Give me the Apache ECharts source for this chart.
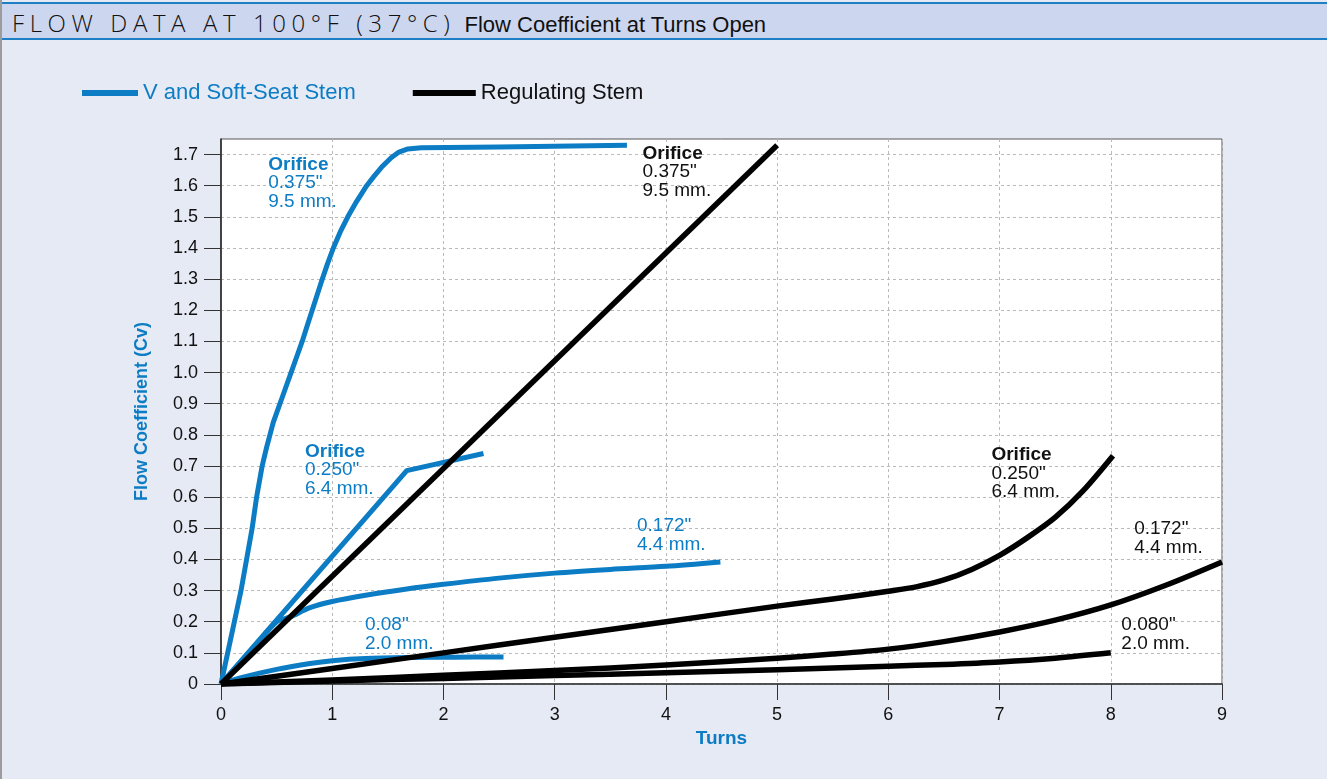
<!DOCTYPE html>
<html>
<head>
<meta charset="utf-8">
<script src="https://cdn.jsdelivr.net/npm/echarts@6/dist/echarts.min.js"></script>
<style>
html,body{margin:0;padding:0;width:1327px;height:779px;overflow:hidden;background:#e6eaf5;font-family:'Liberation Sans',Arial,sans-serif;}
#frame{position:absolute;left:0;top:0;width:1327px;height:779px;border-left:2px solid #9c9c9c;box-sizing:border-box;}
#hdr{position:absolute;left:2px;top:2px;width:1325px;height:34px;background:#cdd6ef;border-top:2px solid #1e7fc4;border-bottom:2px solid #1e7fc4;}
#title{position:absolute;left:10px;top:2px;display:flex;align-items:baseline;white-space:nowrap;}
#t1{font-family:'Open Sans',sans-serif;font-weight:300;font-size:24px;letter-spacing:5.6px;color:#111;}
#t2{font-family:'Liberation Sans',Arial,sans-serif;font-size:22px;color:#111;margin-left:9px;}
#chart{position:absolute;left:0;top:0;width:1327px;height:779px;}
</style>
</head>
<body>
<div id="frame"></div>
<div id="hdr"><div id="title"><span id="t1">FLOW DATA AT 100°F (37°C)</span><span id="t2">Flow Coefficient at Turns Open</span></div></div>
<div id="chart"></div>
<script>
// ---- data (turns, Cv) ----
const seriesNames = ['V and Soft-Seat Stem', 'Regulating Stem'];
const xTickValues = [0, 1, 2, 3, 4, 5, 6, 7, 8, 9];
const yTickValues = [0, 0.1, 0.2, 0.3, 0.4, 0.5, 0.6, 0.7, 0.8, 0.9, 1.0, 1.1, 1.2, 1.3, 1.4, 1.5, 1.6, 1.7];
const yTickLabels = ['0', '0.1', '0.2', '0.3', '0.4', '0.5', '0.6', '0.7', '0.8', '0.9', '1.0', '1.1', '1.2', '1.3', '1.4', '1.5', '1.6', '1.7'];

// V and Soft-Seat Stem
const blue375 = [[0,0],[0.06,0.1],[0.12,0.2],[0.18,0.3],[0.23,0.4],[0.28,0.5],[0.32,0.6],[0.37,0.7],[0.41,0.76],[0.44,0.8],[0.47,0.84],[0.51,0.88],[0.55,0.92],[0.59,0.96],[0.63,1.0],[0.68,1.05],[0.73,1.1],[0.775,1.15],[0.82,1.2],[0.865,1.25],[0.91,1.3],[0.958,1.35],[1.01,1.4],[1.07,1.45],[1.14,1.5],[1.22,1.55],[1.31,1.6],[1.375,1.63],[1.445,1.66],[1.53,1.69],[1.6,1.708],[1.68,1.718],[1.8,1.722],[2.5,1.724],[3.65,1.73]];
const blue250 = [[0,0],[1.67,0.685],[2.36,0.74]];
const blue172 = [[0,0],[0.3,0.12],[0.5,0.2],[0.62,0.215],[0.8,0.245],[1.0,0.265],[1.3,0.285],[1.67,0.305],[2.0,0.32],[2.5,0.34],[3.0,0.356],[3.5,0.368],[4.0,0.378],[4.49,0.392]];
const blue080 = [[0,0],[0.2,0.022],[0.5,0.047],[0.8,0.066],[1.0,0.075],[1.3,0.082],[1.7,0.085],[2.1,0.086],[2.54,0.087]];

// Regulating Stem
const black375 = [[0,0],[5,1.73]];
const black250 = [[0,0],[1,0.05],[2,0.1],[3,0.15],[4,0.2],[5,0.25],[5.5,0.273],[6,0.298],[6.25,0.312],[6.5,0.334],[6.75,0.368],[7,0.413],[7.25,0.47],[7.5,0.535],[7.75,0.62],[8.02,0.733]];
const black172 = [[0,0],[1,0.013],[2,0.028],[3,0.043],[4,0.061],[5,0.083],[5.5,0.096],[6,0.112],[6.5,0.136],[7,0.167],[7.5,0.205],[8,0.254],[8.5,0.318],[9,0.392]];
const black080 = [[0,0],[1,0.01],[2,0.018],[3,0.027],[4,0.036],[5,0.046],[6,0.057],[6.5,0.063],[7,0.071],[7.5,0.083],[8,0.1]];

// orifice annotations: [turns, Cv] anchor of text block (top-left), lines
const blueNotes = [
  {at:[0.425,1.698], title:'Orifice', lines:['0.375"','9.5 mm.']},
  {at:[0.755,0.776], title:'Orifice', lines:['0.250"','6.4 mm.']},
  {at:[3.74,0.537], title:'', lines:['0.172"','4.4 mm.']},
  {at:[1.294,0.219], title:'', lines:['0.08"','2.0 mm.']}
];
const blackNotes = [
  {at:[3.79,1.733], title:'Orifice', lines:['0.375"','9.5 mm.']},
  {at:[6.927,0.765], title:'Orifice', lines:['0.250"','6.4 mm.']},
  {at:[8.21,0.528], title:'', lines:['0.172"','4.4 mm.']},
  {at:[8.095,0.219], title:'', lines:['0.080"','2.0 mm.']}
];

const BLUE = '#0c7cc4';
const BLACK = '#000000';
const FONT = "'Liberation Sans', Arial, sans-serif";

function lineSeries(name, data, color, width, smooth, z) {
  return {
    type: 'line', name: name, data: data, showSymbol: false, symbol: 'none',
    smooth: smooth, silent: true, z: z,
    lineStyle: {color: color, width: width, cap: 'butt', join: 'round'},
    itemStyle: {color: color}
  };
}

function noteSeries(notes, color) {
  return {
    type: 'scatter', silent: true, z: 10, symbolSize: 0,
    itemStyle: {color: 'transparent', opacity: 1},
    data: notes.map(n => ({value: n.at, note: n})),
    label: {
      show: true, position: [0, 0], align: 'left', verticalAlign: 'top', opacity: 1,
      color: color, fontFamily: FONT,
      formatter: p => {
        const n = p.data.note;
        const parts = [];
        if (n.title) parts.push('{b|' + n.title + '}');
        n.lines.forEach(l => parts.push('{n|' + l + '}'));
        return parts.join('\n');
      },
      rich: {
        b: {fontSize: 19, fontWeight: 'bold', lineHeight: 18.5, color: color, fontFamily: FONT},
        n: {fontSize: 19, lineHeight: 18.5, color: color, fontFamily: FONT}
      }
    }
  };
}

const chart = echarts.init(document.getElementById('chart'), null, {renderer: 'canvas'});
chart.setOption({
  animation: false,
  backgroundColor: 'transparent',
  textStyle: {fontFamily: FONT},
  grid: {left: 221, right: 105, top: 139, bottom: 95, show: true, backgroundColor: '#ffffff',
         borderColor: '#555', borderWidth: 1, containLabel: false, outerBoundsMode: 'none'},
  legend: {
    left: 75, top: 82, padding: 0, itemWidth: 63, itemHeight: 6, itemGap: 57,
    selectedMode: false,
    textStyle: {fontSize: 22, fontFamily: FONT},
    data: [
      {name: seriesNames[0], icon: 'path://M0,3L0,3M7,0L63,0L63,6L7,6Z', textStyle: {color: BLUE}},
      {name: seriesNames[1], icon: 'rect', textStyle: {color: '#111'}}
    ]
  },
  xAxis: {
    type: 'value', min: xTickValues[0], max: xTickValues[xTickValues.length - 1], interval: 1,
    name: 'Turns', nameLocation: 'middle', nameGap: 42,
    nameTextStyle: {fontSize: 19, fontWeight: 'bold', color: BLUE, fontFamily: FONT},
    axisLine: {show: true, onZero: false, lineStyle: {color: '#333', width: 1.5}},
    axisTick: {show: true, length: 16, lineStyle: {color: '#333', width: 1}},
    axisLabel: {fontSize: 18, color: '#111', margin: 22, fontFamily: FONT},
    splitLine: {show: true, lineStyle: {color: '#b9b9b9', width: 1, type: [3, 3]}}
  },
  yAxis: {
    type: 'value', min: 0, max: 1.75, interval: 0.1,
    name: 'Flow Coefficient (Cv)', nameLocation: 'middle', nameGap: 70, nameRotate: 90,
    nameTextStyle: {fontSize: 18, fontWeight: 'bold', color: BLUE, fontFamily: FONT},
    axisLine: {show: true, onZero: false, lineStyle: {color: '#222', width: 1.5}},
    axisTick: {show: true, length: 17, customValues: yTickValues, lineStyle: {color: '#333', width: 1}},
    axisLabel: {fontSize: 18, color: '#111', margin: 23, fontFamily: FONT, customValues: yTickValues,
      formatter: v => { const i = yTickValues.findIndex(t => Math.abs(t - v) < 1e-6); return i >= 0 ? yTickLabels[i] : ''; }},
    splitLine: {show: true, lineStyle: {color: '#b9b9b9', width: 1, type: [3, 3]}}
  },
  series: [
    lineSeries(seriesNames[0], blue375, BLUE, 5, false, 3),
    lineSeries(seriesNames[0], blue250, BLUE, 5, false, 3),
    lineSeries(seriesNames[0], blue172, BLUE, 5, 0.3, 3),
    lineSeries(seriesNames[0], blue080, BLUE, 5, 0.3, 3),
    lineSeries(seriesNames[1], black375, BLACK, 5.5, false, 4),
    lineSeries(seriesNames[1], black250, BLACK, 5.5, 0.3, 4),
    lineSeries(seriesNames[1], black172, BLACK, 5.5, 0.3, 4),
    lineSeries(seriesNames[1], black080, BLACK, 5.5, 0.3, 4),
    noteSeries(blueNotes, BLUE),
    noteSeries(blackNotes, '#111')
  ]
});
</script>
</body>
</html>
